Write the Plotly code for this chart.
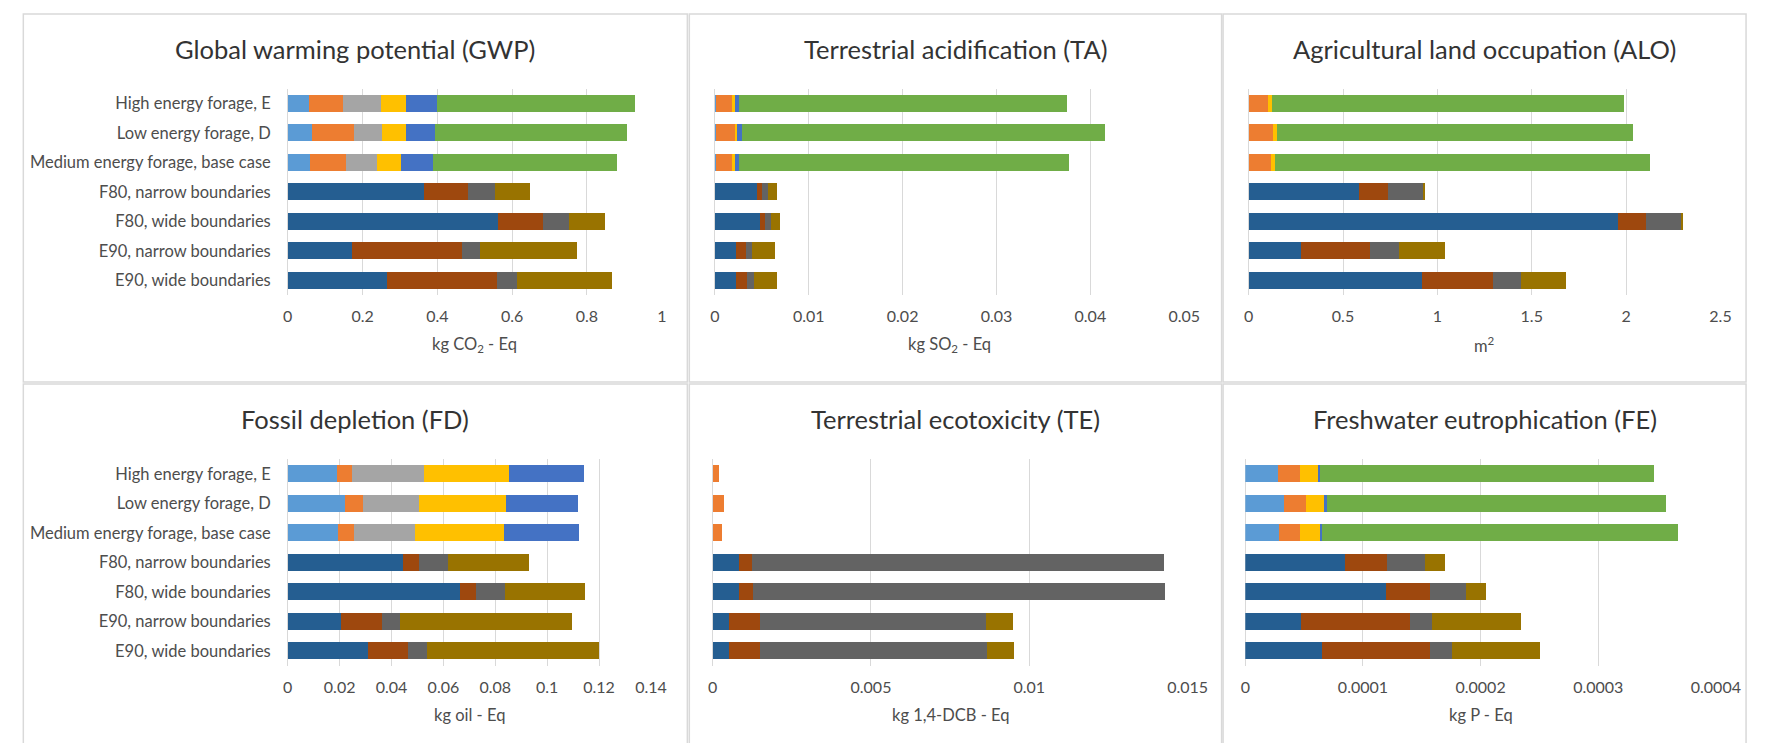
import plotly.graph_objects as go

# ---------------- data ----------------
CATEGORIES = [
    "High energy forage, E",
    "Low energy forage, D",
    "Medium energy forage, base case",
    "F80, narrow boundaries",
    "F80, wide boundaries",
    "E90, narrow boundaries",
    "E90, wide boundaries",
]

SERIES_NAMES = [
    "Forage part 1", "Forage part 2", "Forage part 3", "Forage part 4",
    "Forage part 5", "Forage part 6",
    "System part 1", "System part 2", "System part 3", "System part 4",
]

SERIES_COLORS = [
    "#5B9BD5", "#ED7D31", "#A5A5A5", "#FFC000", "#4472C4", "#70AD47",
    "#255E91", "#9E480E", "#636363", "#997300",
]

# each row = one series, columns follow CATEGORIES
GWP = [
    [0.057, 0.065, 0.060, 0, 0, 0, 0],
    [0.092, 0.113, 0.097, 0, 0, 0, 0],
    [0.101, 0.074, 0.082, 0, 0, 0, 0],
    [0.065, 0.063, 0.065, 0, 0, 0, 0],
    [0.083, 0.080, 0.084, 0, 0, 0, 0],
    [0.531, 0.513, 0.492, 0, 0, 0, 0],
    [0, 0, 0, 0.365, 0.562, 0.172, 0.265],
    [0, 0, 0, 0.116, 0.120, 0.293, 0.295],
    [0, 0, 0, 0.073, 0.071, 0.050, 0.053],
    [0, 0, 0, 0.093, 0.094, 0.257, 0.255],
]

TA = [
    [0.0001, 0.0001, 0.0001, 0, 0, 0, 0],
    [0.0018, 0.0021, 0.0017, 0, 0, 0, 0],
    [0, 0, 0, 0, 0, 0, 0],
    [0.0002, 0.00015, 0.0003, 0, 0, 0, 0],
    [0.0005, 0.0005, 0.0005, 0, 0, 0, 0],
    [0.0349, 0.0387, 0.0351, 0, 0, 0, 0],
    [0, 0, 0, 0.0045, 0.0048, 0.0022, 0.0023],
    [0, 0, 0, 0.0005, 0.0005, 0.0011, 0.00115],
    [0, 0, 0, 0.0007, 0.0007, 0.0007, 0.0007],
    [0, 0, 0, 0.0009, 0.0009, 0.00245, 0.0025],
]

ALO = [
    [0, 0, 0, 0, 0, 0, 0],
    [0.101, 0.130, 0.117, 0, 0, 0, 0],
    [0, 0, 0, 0, 0, 0, 0],
    [0.023, 0.022, 0.023, 0, 0, 0, 0],
    [0, 0, 0, 0, 0, 0, 0],
    [1.865, 1.887, 1.984, 0, 0, 0, 0],
    [0, 0, 0, 0.584, 1.959, 0.280, 0.919],
    [0, 0, 0, 0.154, 0.146, 0.365, 0.374],
    [0, 0, 0, 0.185, 0.185, 0.151, 0.150],
    [0, 0, 0, 0.005, 0.005, 0.244, 0.239],
]

FD = [
    [0.0188, 0.0221, 0.0193, 0, 0, 0, 0],
    [0.0059, 0.0070, 0.0064, 0, 0, 0, 0],
    [0.0279, 0.0213, 0.0233, 0, 0, 0, 0],
    [0.0327, 0.0336, 0.0345, 0, 0, 0, 0],
    [0.0288, 0.0278, 0.0287, 0, 0, 0, 0],
    [0, 0, 0, 0, 0, 0, 0],
    [0, 0, 0, 0.0443, 0.0662, 0.0207, 0.0310],
    [0, 0, 0, 0.0061, 0.0063, 0.0158, 0.0155],
    [0, 0, 0, 0.0115, 0.0113, 0.0066, 0.0072],
    [0, 0, 0, 0.0309, 0.0309, 0.0666, 0.0663],
]

TE = [
    [0, 0, 0, 0, 0, 0, 0],
    [0.00021, 0.00036, 0.00031, 0, 0, 0, 0],
    [0, 0, 0, 0, 0, 0, 0],
    [0, 0, 0, 0, 0, 0, 0],
    [0, 0, 0, 0, 0, 0, 0],
    [0, 0, 0, 0, 0, 0, 0],
    [0, 0, 0, 0.00084, 0.00083, 0.00051, 0.00051],
    [0, 0, 0, 0.00041, 0.00043, 0.00098, 0.00098],
    [0, 0, 0, 0.01300, 0.01303, 0.00715, 0.00717],
    [0, 0, 0, 0, 0, 0.00085, 0.00084],
]

FE = [
    [2.80e-5, 3.27e-5, 2.90e-5, 0, 0, 0, 0],
    [1.81e-5, 1.90e-5, 1.71e-5, 0, 0, 0, 0],
    [0, 0, 0, 0, 0, 0, 0],
    [1.62e-5, 1.62e-5, 1.75e-5, 0, 0, 0, 0],
    [0.13e-5, 0.16e-5, 0.18e-5, 0, 0, 0, 0],
    [28.41e-5, 28.81e-5, 30.25e-5, 0, 0, 0, 0],
    [0, 0, 0, 8.44e-5, 11.99e-5, 4.77e-5, 6.48e-5],
    [0, 0, 0, 3.58e-5, 3.74e-5, 9.19e-5, 9.19e-5],
    [0, 0, 0, 3.28e-5, 2.99e-5, 1.93e-5, 1.87e-5],
    [0, 0, 0, 1.68e-5, 1.72e-5, 7.51e-5, 7.48e-5],
]

PANEL_TITLES = [
    "Global warming potential (GWP)",
    "Terrestrial acidification (TA)",
    "Agricultural land occupation (ALO)",
    "Fossil depletion (FD)",
    "Terrestrial ecotoxicity (TE)",
    "Freshwater eutrophication (FE)",
]
AXIS_TITLES = [
    "kg CO<sub>2</sub> - Eq",
    "kg SO<sub>2</sub> - Eq",
    "m<sup>2</sup>",
    "kg oil - Eq",
    "kg 1,4-DCB - Eq",
    "kg P - Eq",
]
AXIS_MAX = [1.0, 0.05, 2.5, 0.14, 0.015, 0.0004]
AXIS_STEP = [0.2, 0.01, 0.5, 0.02, 0.005, 0.0001]

PANEL_DATA = [GWP, TA, ALO, FD, TE, FE]

# ---------------- layout (pixels) ----------------
W, H = 1766, 743
FONT = "Lato, Noto Sans, sans-serif"
TXT = "#4D4D4D"
TITLE_TXT = "#333333"

# plot areas: (x0, x1, y_top, y_bottom)
PLOT_BOXES = [
    (279.5, 660.0, 80.5, 287.0),
    (714.0, 1191.5, 80.5, 287.0),
    (1257.0, 1737.0, 80.5, 287.0),
    (279.5, 649.0, 451.0, 657.5),
    (711.7, 1195.0, 451.0, 657.5),
    (1253.6, 1732.3, 451.0, 657.5),
]
PANEL_BOXES = [
    (10.5, 686.0, 6.0, 374.0),
    (688.0, 1229.5, 6.0, 374.0),
    (1231.0, 1763.0, 6.0, 374.0),
    (10.5, 686.0, 376.0, 742.0),
    (688.0, 1229.5, 376.0, 742.0),
    (1231.0, 1763.0, 376.0, 742.0),
]
TITLE_Y = [41.5, 41.5, 41.5, 410.5, 410.5, 410.5]
AXTITLE_Y = [337.0, 337.0, 337.0, 707.0, 707.0, 707.0]


def px(x):
    return x / W


def py(y):
    return 1 - y / H


fig = go.Figure()
layout = dict(
    width=W, height=H,
    margin=dict(l=0, r=0, t=0, b=0),
    paper_bgcolor="white", plot_bgcolor="white",
    barmode="stack", bargap=0.41,
    showlegend=False,
    font=dict(family=FONT, color=TXT, size=16),
)
shapes = []
annotations = []

for i, data in enumerate(PANEL_DATA):
    n = "" if i == 0 else str(i + 1)
    xa, ya = "x" + n, "y" + n
    for s, vals in enumerate(data):
        fig.add_trace(go.Bar(
            x=vals, y=CATEGORIES, orientation="h",
            name=SERIES_NAMES[s], marker=dict(color=SERIES_COLORS[s], line=dict(width=0)),
            xaxis=xa, yaxis=ya,
        ))
    x0, x1, yt, yb = PLOT_BOXES[i]
    layout["xaxis" + n] = dict(
        domain=[px(x0), px(x1)], anchor=ya, range=[0, AXIS_MAX[i]],
        dtick=AXIS_STEP[i], tick0=0, tickformat="~g",
        showgrid=True, gridcolor="#D9D9D9", gridwidth=1,
        zeroline=True, zerolinecolor="#D9D9D9", zerolinewidth=1,
        showline=False, ticks="", ticklabelstandoff=10,
        tickfont=dict(family=FONT, size=16, color=TXT),
        fixedrange=True,
    )
    layout["yaxis" + n] = dict(
        domain=[py(yb), py(yt)], anchor=xa, autorange="reversed",
        type="category", showgrid=False, zeroline=False, showline=False,
        ticks="", showticklabels=(i % 3 == 0), ticklabelstandoff=16,
        tickfont=dict(family=FONT, size=16.5, color=TXT),
        fixedrange=True,
    )
    bx0, bx1, by0, by1 = PANEL_BOXES[i]
    shapes.append(dict(type="rect", xref="paper", yref="paper",
                       x0=px(bx0), x1=px(bx1), y0=py(by1), y1=py(by0),
                       line=dict(color="#D9D9D9", width=1.5)))
    annotations.append(dict(
        text=PANEL_TITLES[i], xref="paper", yref="paper",
        x=px((bx0 + bx1) / 2), y=py(TITLE_Y[i]), xanchor="center", yanchor="middle",
        showarrow=False, font=dict(family=FONT, size=25.5, color=TITLE_TXT),
    ))
    annotations.append(dict(
        text=AXIS_TITLES[i], xref="paper", yref="paper",
        x=px((x0 + x1) / 2), y=py(AXTITLE_Y[i]), xanchor="center", yanchor="middle",
        showarrow=False, font=dict(family=FONT, size=16.5, color=TXT),
    ))

layout["shapes"] = shapes
layout["annotations"] = annotations
fig.update_layout(**layout)
fig.write_html("out.html")
